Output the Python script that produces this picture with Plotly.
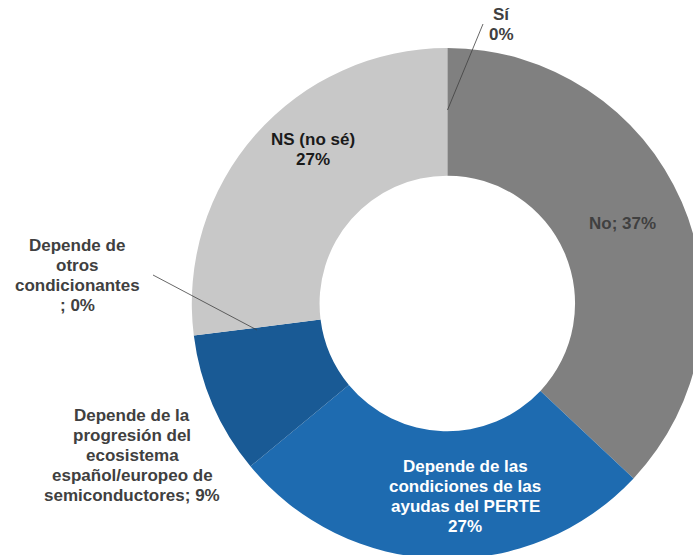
import plotly.graph_objects as go

# Data
categories = ["Sí", "No", "Depende de las condiciones de las ayudas del PERTE",
              "Depende de la progresión del ecosistema español/europeo de semiconductores",
              "Depende de otros condicionantes", "NS (no sé)"]
values = [0, 37, 27, 9, 0, 27]
colors = ["#7f7f7f", "#808080", "#1e6bb0", "#195a95", "#c0c0c0", "#c8c8c8"]

W, H = 710, 570
cx, cy, R = 447.3, 303.5, 255.5

def px(x):
    return x / W

def py(y):
    return (H - y) / H

fig = go.Figure(go.Pie(
    labels=categories, values=values, sort=False, direction="clockwise", rotation=0,
    hole=0.5, textinfo="none", hoverinfo="label+percent",
    marker=dict(colors=colors, line=dict(width=0)),
    domain=dict(x=[px(cx - R), px(cx + R)], y=[py(cy + R), py(cy - R)]),
    showlegend=False,
))

font = dict(family="Liberation Sans, Arial", size=17, weight="bold")

def lab(lines, x, y0, color, step=20):
    for i, t in enumerate(lines):
        fig.add_annotation(text=t, x=px(x), y=py(y0 + i * step), xref="paper", yref="paper",
                           showarrow=False, xanchor="center", yanchor="middle",
                           font=dict(font, color=color), align="center")

def leader(x0, y0, x1, y1):
    fig.add_shape(type="line", xref="paper", yref="paper",
                  x0=px(x0), y0=py(y0), x1=px(x1), y1=py(y1),
                  line=dict(color="#404040", width=0.8))

lab([categories[0], f"{values[0]}%"], 502, 15, "#404040")
lab([f"{categories[1]}; {values[1]}%"], 622, 223, "#404040")
lab(["Depende de las", "condiciones de las", "ayudas del PERTE", f"{values[2]}%"], 465, 466, "#ffffff")
lab(["Depende de la", "progresión del", "ecosistema", "español/europeo de",
     f"semiconductores; {values[3]}%"], 132, 415, "#404040")
lab(["Depende de", "otros", "condicionantes", f"; {values[4]}%"], 77, 245, "#404040")
lab([categories[5], f"{values[5]}%"], 313, 139, "#1a1a1a")

leader(447.5, 110, 483, 24)
leader(153, 275, 257, 330)

fig.update_layout(width=W, height=H, margin=dict(l=0, r=0, t=0, b=0),
                  paper_bgcolor="white", plot_bgcolor="white")

fig.write_html("out.html", config={"displayModeBar": False},
               post_script="document.body.style.margin='0';document.body.style.overflow='hidden';document.documentElement.style.overflow='hidden';")
